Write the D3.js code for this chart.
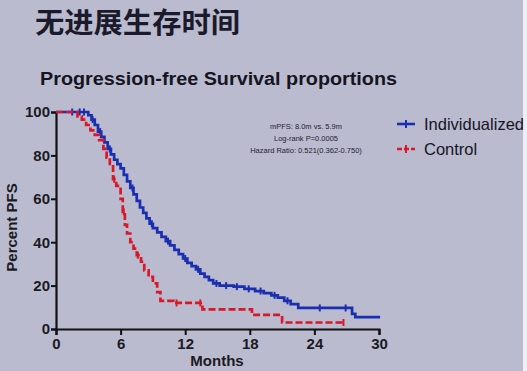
<!DOCTYPE html>
<html><head><meta charset="utf-8">
<script src="https://cdn.jsdelivr.net/npm/d3@7"></script>
<style>
html,body{margin:0;padding:0;background:#bbbbd0;}
svg{display:block;}
</style></head>
<body>
<script>
// ---- data ----
const xTicks = [0, 6, 12, 18, 24, 30];
const yTicks = [0, 20, 40, 60, 80, 100];
// Individualized: step times (months) and survival (%) after each step
const indivTimes = [0, 3.0, 3.3, 3.6, 3.9, 4.2, 4.5, 4.8, 5.1, 5.4, 5.7, 6.0, 6.3, 6.6, 6.9, 7.2, 7.5, 7.8, 8.1, 8.4, 8.7, 9.0, 9.4, 9.8, 10.2, 10.6, 11.0, 11.4, 11.8, 12.2, 12.6, 13.0, 13.4, 13.8, 14.2, 14.6, 15.2, 16.5, 17.5, 18.5, 19.3, 20.0, 20.6, 21.2, 21.8, 22.5, 27.5, 27.8];
const indivSurv  = [100, 98.5, 96.5, 94, 91, 88.5, 86, 83, 80.5, 78, 76, 74, 71, 68, 65, 62, 59, 56, 53.5, 51, 48.5, 46.5, 44.5, 42.5, 40.5, 38.5, 36.5, 34.5, 32.5, 30.5, 29, 27.5, 25.5, 24, 22.5, 21, 20, 19.5, 18.5, 17.5, 16.5, 15.5, 14.5, 13, 11.5, 9.7, 7, 5.5];
const indivEnd = 30.1;
const indivCensor = [1.5, 2.2, 2.6, 3.4, 4.1, 5.0, 7.1, 8.9, 10.4, 12.0, 13.2, 14.9, 15.8, 16.8, 17.9, 19.0, 20.3, 21.5, 24.5, 26.9];
// Control
const ctrlTimes = [0, 2.0, 2.4, 2.8, 3.2, 3.6, 4.0, 4.4, 4.7, 5.0, 5.3, 5.6, 6.0, 6.2, 6.4, 6.6, 6.9, 7.2, 7.5, 7.9, 8.2, 8.6, 9.0, 9.4, 9.7, 10.9, 13.6, 18.2, 21.0];
const ctrlSurv  = [100, 98, 96.5, 94, 91.5, 89.5, 87, 83, 79, 75, 69, 66, 60, 54, 48, 44, 40, 37, 34, 31, 27, 24, 21, 17, 13, 12, 9, 6.5, 3];
const ctrlEnd = 26.7;
const ctrlCensor = [5.4, 6.3, 7.6, 11.2, 13.4, 26.7];
const annotLines = ["mPFS: 8.0m vs. 5.9m", "Log-rank P=0.0005", "Hazard Ratio: 0.521(0.362-0.750)"];
const seriesNames = ["Individualized", "Control"];
const seriesColors = ["#1a2fb0", "#d8182a"];

// ---- layout ----
const W = 527, H = 371;
const svg = d3.select("body").append("svg").attr("width", W).attr("height", H);
svg.append("rect").attr("width", W).attr("height", H).attr("fill", "#bbbbd0");
svg.append("rect").attr("x", 523).attr("y", 0).attr("width", 4).attr("height", H).attr("fill", "#eeeef4");

const x = d3.scaleLinear().domain([0, 30]).range([56, 379]);
const y = d3.scaleLinear().domain([0, 100]).range([329, 112]);

const font = "'Liberation Sans', Arial, sans-serif";

svg.append("text").attr("x", 35).attr("y", 33)
  .attr("font-family", "'Noto Sans CJK SC', sans-serif").attr("font-weight", "bold")
  .attr("font-size", 28).attr("textLength", 205).attr("lengthAdjust", "spacingAndGlyphs")
  .attr("fill", "#1a1a2a").text("无进展生存时间");

svg.append("text").attr("x", 40).attr("y", 85)
  .attr("font-family", font).attr("font-weight", "bold")
  .attr("font-size", 18).attr("textLength", 357).attr("lengthAdjust", "spacingAndGlyphs")
  .attr("fill", "#15151f").text("Progression-free Survival proportions");

// axes
const gx = svg.append("g").attr("transform", `translate(0,${y(0)})`)
  .call(d3.axisBottom(x).tickValues(xTicks).tickSize(6).tickPadding(3));
const gy = svg.append("g").attr("transform", `translate(${x(0)},0)`)
  .call(d3.axisLeft(y).tickValues(yTicks).tickSize(5).tickPadding(1));
[gx, gy].forEach(g => {
  g.select(".domain").attr("stroke", "#111").attr("stroke-width", 2.2);
  g.selectAll(".tick line").attr("stroke", "#111").attr("stroke-width", 2);
  g.selectAll(".tick text").attr("font-family", font).attr("font-weight", "bold")
    .attr("font-size", 15).attr("fill", "#1a1a22");
});

svg.append("text").attr("transform", `translate(17,${(y(0)+y(100))/2 + 7}) rotate(-90)`)
  .attr("text-anchor", "middle").attr("font-family", font).attr("font-weight", "bold")
  .attr("font-size", 15).attr("fill", "#1a1a22").text("Percent PFS");
svg.append("text").attr("x", 217).attr("y", 366).attr("text-anchor", "middle")
  .attr("font-family", font).attr("font-weight", "bold")
  .attr("font-size", 15).attr("fill", "#1a1a22").text("Months");

// KM step paths
function stepPts(times, surv, end) {
  const pts = times.map((t, i) => [t, surv[i]]);
  pts.push([end, surv[surv.length - 1]]);
  return pts;
}
function survAt(times, surv, t) {
  let v = surv[0];
  for (let i = 0; i < times.length; i++) if (times[i] <= t) v = surv[i];
  return v;
}
const line = d3.line().x(d => x(d[0])).y(d => y(d[1])).curve(d3.curveStepAfter);

function drawSeries(times, surv, end, censor, color, dash) {
  const g = svg.append("g");
  g.append("path").datum(stepPts(times, surv, end)).attr("d", line)
    .attr("fill", "none").attr("stroke", color).attr("stroke-width", 2.7)
    .attr("stroke-dasharray", dash);
  g.selectAll("line.c").data(censor).enter().append("line")
    .attr("x1", d => x(d)).attr("x2", d => x(d))
    .attr("y1", d => y(survAt(times, surv, d)) - 3.5)
    .attr("y2", d => y(survAt(times, surv, d)) + 3.5)
    .attr("stroke", color).attr("stroke-width", 2);
}
drawSeries(indivTimes, indivSurv, indivEnd, indivCensor, seriesColors[0], null);
drawSeries(ctrlTimes, ctrlSurv, ctrlEnd, ctrlCensor, seriesColors[1], "7,3");

// annotation
svg.append("g").selectAll("text").data(annotLines).enter().append("text")
  .attr("x", 306).attr("y", (d, i) => 129 + i * 12).attr("text-anchor", "middle")
  .attr("font-family", font).attr("font-size", 7.5).attr("fill", "#22222f").text(d => d);

// legend
const leg = svg.append("g");
seriesNames.forEach((n, i) => {
  const cy = 124 + i * 25;
  leg.append("line").attr("x1", 397).attr("x2", 415).attr("y1", cy).attr("y2", cy)
    .attr("stroke", seriesColors[i]).attr("stroke-width", 2.6)
    .attr("stroke-dasharray", i === 1 ? "5,2" : null);
  leg.append("line").attr("x1", 406).attr("x2", 406).attr("y1", cy - 4).attr("y2", cy + 4)
    .attr("stroke", seriesColors[i]).attr("stroke-width", 2);
  leg.append("text").attr("x", 424).attr("y", cy + 6).attr("font-family", font)
    .attr("font-size", 16.5).attr("fill", "#15151f").text(n);
});
</script>
</body></html>
